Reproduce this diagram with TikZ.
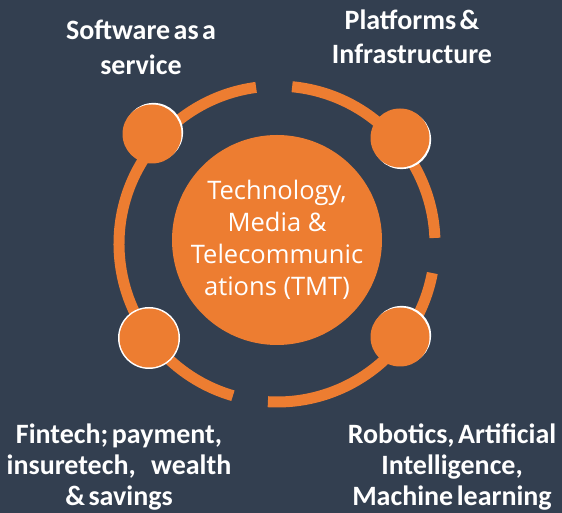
\documentclass[tikz,border=0pt]{standalone}
\usepackage{fontspec}
\newfontfamily\lblfont{Carlito}[WordSpace=0.55]
\newfontfamily\ctrfont{Open Sans}
\definecolor{bg}{HTML}{333F50}
\definecolor{org}{HTML}{ED7D31}
\tikzset{
  ringarc/.style={draw=org, line width=11pt},
  dot/.style={circle, fill=org, minimum size=59pt, inner sep=0pt},
  shadowdot/.style={fill=white},
  lbl/.style={text=white, font=\lblfont\bfseries\fontsize{28}{32}\selectfont, align=center, inner sep=0pt},
  ctr/.style={circle, fill=org, minimum size=210pt, inner sep=0pt, text=white,
    font=\ctrfont\fontsize{25.5}{32}\selectfont, align=center}
}
\begin{document}
\begin{tikzpicture}[x=1pt,y=1pt]
\fill[bg] (0,0) rectangle (562,513);
\useasboundingbox (0,0) rectangle (562,513);
\coordinate (rc) at (277,269);
% ring
\draw[ringarc] ([shift={(2.2:158)}]rc) arc[start angle=2.2, end angle=84.5, radius=158];
\draw[ringarc] ([shift={(97.6:158)}]rc) arc[start angle=97.6, end angle=253.8, radius=158];
\draw[ringarc] ([shift={(266.7:158)}]rc) arc[start angle=266.7, end angle=349.4, radius=158];
% centre
\node[ctr] (tmt) at (277,273) {Technology,\\Media \&\\Telecommunic\\ations (TMT)};
% small circles
\coordinate (p1) at (152,379);
\coordinate (p2) at (400,375);
\coordinate (p3) at (149,175);
\coordinate (p4) at (400,176);
\fill[shadowdot] ([shift={(1.6,1.6)}]p1) circle[radius=29.5];
\fill[shadowdot] ([shift={(1.6,-1.6)}]p2) circle[radius=29.5];
\fill[shadowdot] (p3) circle[radius=31];
\fill[shadowdot] ([shift={(1.6,1.6)}]p4) circle[radius=29.5];
\node[dot] (d1) at (p1) {};
\node[dot] (d2) at (p2) {};
\node[dot] (d3) at (p3) {};
\node[dot] (d4) at (p4) {};
% labels
\node[lbl, font=\lblfont\bfseries\fontsize{28}{35}\selectfont] (saas) at (141,466) {Software as a\\service};
\node[lbl, font=\lblfont\bfseries\fontsize{28}{34}\selectfont] (plat) at (412,476.5) {Platforms \&\\Infrastructure};
\node[lbl, font=\lblfont\bfseries\fontsize{28}{31}\selectfont] (fin) at (119,46) {Fintech; payment,\\insuretech,\hspace{0.55em}wealth\\\& savings};
\node[lbl, font=\lblfont\bfseries\fontsize{28}{31}\selectfont] (rob) at (452,46) {Robotics, Artificial\\Intelligence,\\Machine learning};
\end{tikzpicture}
\end{document}
